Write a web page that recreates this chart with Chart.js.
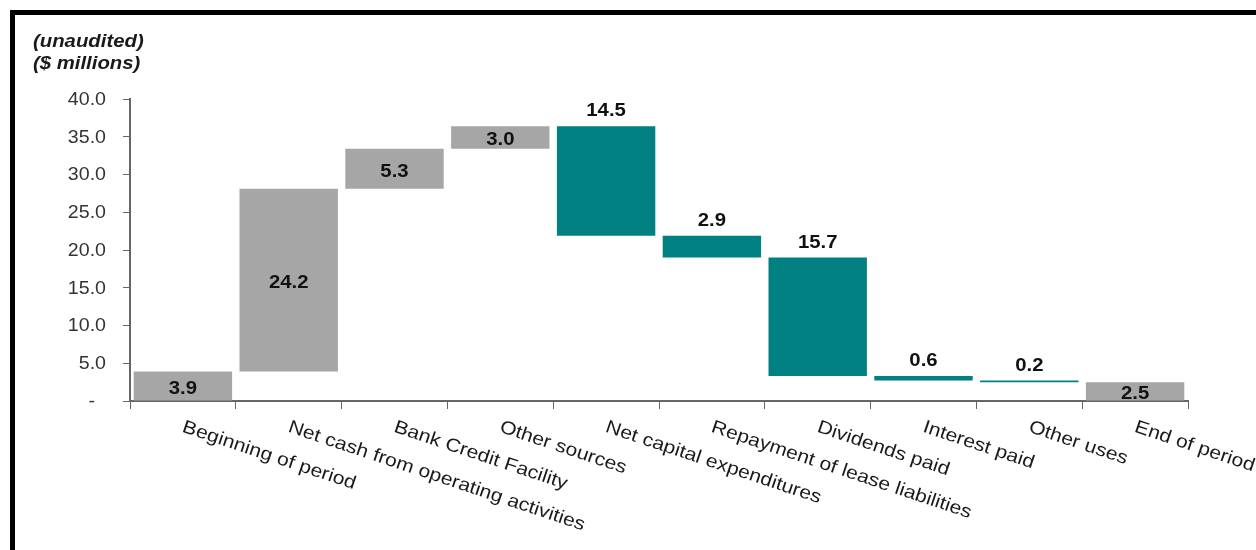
<!DOCTYPE html>
<html>
<head>
<meta charset="utf-8">
<script src="https://cdn.jsdelivr.net/npm/chart.js@4.4.1/dist/chart.umd.min.js"></script>
<style>
  html, body { margin: 0; padding: 0; background: #fff; }
  #wrap { position: relative; width: 1256px; height: 550px; overflow: hidden; }
  #frame { position: absolute; left: 10px; top: 10px; width: 1300px; height: 600px;
           border-top: 5px solid #000; border-left: 5px solid #000; box-sizing: border-box; pointer-events: none; }
  canvas { position: absolute; left: 0; top: 0; }
</style>
</head>
<body>
<div id="wrap">
  <canvas id="c" width="1256" height="550"></canvas>
  <div id="frame"></div>
</div>
<script>
const categories = [
  "Beginning of period",
  "Net cash from operating activities",
  "Bank Credit Facility",
  "Other sources",
  "Net capital expenditures",
  "Repayment of lease liabilities",
  "Dividends paid",
  "Interest paid",
  "Other uses",
  "End of period"
];
const changes = [3.9, 24.2, 5.3, 3.0, -14.5, -2.9, -15.7, -0.6, -0.2, 2.5];
const kinds = ["total", "up", "up", "up", "down", "down", "down", "down", "down", "total"];
const yTicks = [0, 5, 10, 15, 20, 25, 30, 35, 40];
const titleLines = ["(unaudited)", "($ millions)"];

const GRAY = "#a6a6a6";
const TEAL = "#008080";

// Build floating ranges from the changes
let running = 0;
const ranges = changes.map((v, i) => {
  if (kinds[i] === "total") { running = v; return [0, v]; }
  const start = running;
  running = +(running + v).toFixed(2);
  return [start, running];
});
const colors = kinds.map(k => k === "down" ? TEAL : GRAY);

const FONT = "'Liberation Sans', Arial, sans-serif";

function txt(ctx, s, x, y, font, align, baseline, color, sx, angle) {
  ctx.save();
  ctx.translate(x, y);
  if (angle) ctx.rotate(angle);
  ctx.scale(sx, 1);
  ctx.font = font;
  ctx.textAlign = align;
  ctx.textBaseline = baseline;
  ctx.fillStyle = color;
  ctx.fillText(s, 0, 0);
  ctx.restore();
}

const customPlugin = {
  id: "custom",
  afterDraw(chart) {
    const ctx = chart.ctx;
    const xs = chart.scales.x;
    const ys = chart.scales.y;
    const meta = chart.getDatasetMeta(0);
    // Title
    txt(ctx, titleLines[0], 33, 47, "italic bold 18px " + FONT, "left", "alphabetic", "#1a1a1a", 1.13);
    txt(ctx, titleLines[1], 33, 69, "italic bold 18px " + FONT, "left", "alphabetic", "#1a1a1a", 1.13);

    // Y tick labels
    yTicks.forEach(v => {
      const label = v === 0 ? "-  " : v.toFixed(1);
      txt(ctx, label, 106, ys.getPixelForValue(v) + 1, "18px " + FONT, "right", "middle", "#333", 1.09);
    });

    // Data labels
    meta.data.forEach((bar, i) => {
      const top = Math.min(bar.y, bar.base);
      const bot = Math.max(bar.y, bar.base);
      const s = Math.abs(changes[i]).toFixed(1);
      if (kinds[i] === "down") {
        txt(ctx, s, bar.x, top - 6, "bold 18px " + FONT, "center", "bottom", "#111", 1.13);
      } else {
        txt(ctx, s, bar.x, (top + bot) / 2 + 3, "bold 18px " + FONT, "center", "middle", "#111", 1.13);
      }
    });

    // Rotated category labels
    const ang = 18.5 * Math.PI / 180;
    categories.forEach((c, i) => {
      const x = xs.getPixelForValue(i);
      txt(ctx, c, x + 3, xs.top + 17, "18.5px " + FONT, "left", "top", "#1a1a1a", 1.14, ang);
    });
  }
};

new Chart(document.getElementById("c"), {
  type: "bar",
  data: {
    labels: categories,
    datasets: [{
      data: ranges,
      backgroundColor: colors,
      borderWidth: 0,
      barPercentage: 0.93,
      categoryPercentage: 1.0
    }]
  },
  options: {
    responsive: false,
    animation: false,
    layout: { padding: { left: 0, right: 68, top: 99, bottom: 0 } },
    plugins: { legend: { display: false }, tooltip: { enabled: false } },
    scales: {
      x: {
        offset: true,
        grid: { offset: true, drawOnChartArea: false, drawTicks: true, tickLength: 8, color: "#666", lineWidth: 1 },
        border: { color: "#666", width: 2 },
        ticks: { display: false },
        afterFit(s) { s.height = 149; }
      },
      y: {
        min: 0, max: 40,
        afterBuildTicks(s) { s.ticks = yTicks.map(v => ({ value: v })); },
        grid: { drawOnChartArea: false, drawTicks: true, tickLength: 7, color: "#666" },
        border: { color: "#666", width: 2 },
        ticks: { display: false },
        afterFit(s) { s.width = 130; }
      }
    }
  },
  plugins: [customPlugin]
});
</script>
</body>
</html>
